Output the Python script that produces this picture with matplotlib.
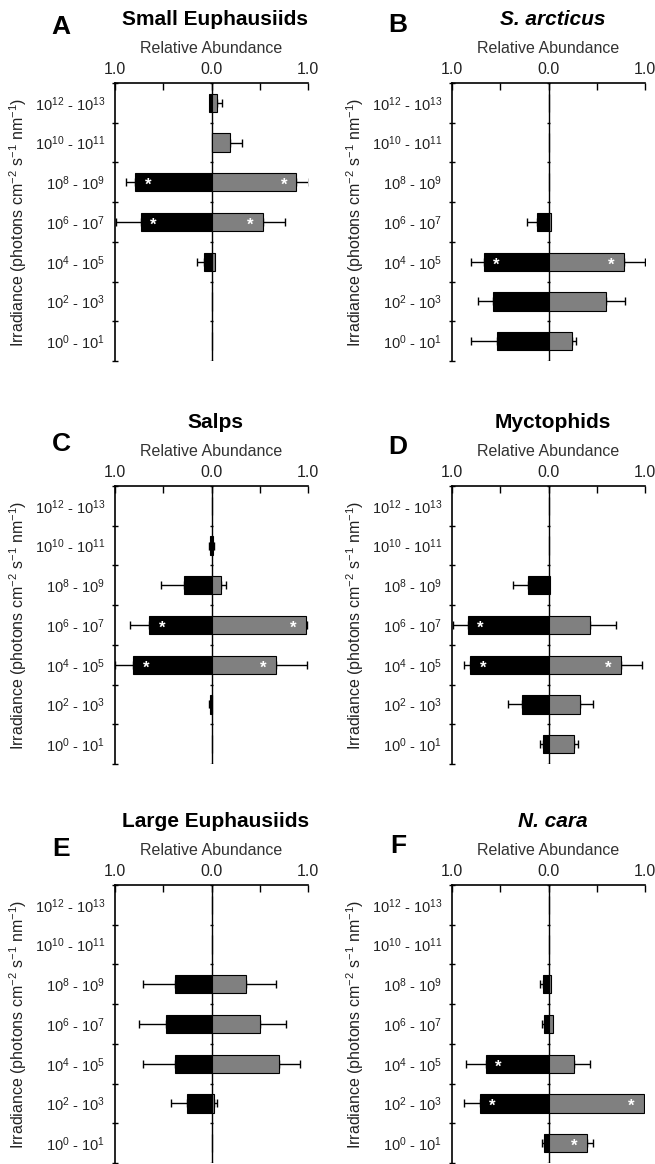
import matplotlib
matplotlib.use("Agg")
import matplotlib.pyplot as plt
import numpy as np

plt.rcParams['font.family'] = ['Liberation Sans', 'DejaVu Sans']
plt.rcParams['mathtext.fontset'] = 'custom'
plt.rcParams['mathtext.rm'] = 'Liberation Sans'
plt.rcParams['mathtext.it'] = 'Liberation Sans:italic'
plt.rcParams['mathtext.bf'] = 'Liberation Sans:bold'

# irradiance bins, top to bottom
bins = [r'$10^{12}$ - $10^{13}$', r'$10^{10}$ - $10^{11}$', r'$10^{8}$ - $10^{9}$',
        r'$10^{6}$ - $10^{7}$', r'$10^{4}$ - $10^{5}$', r'$10^{2}$ - $10^{3}$',
        r'$10^{0}$ - $10^{1}$']

letters = ['A', 'B', 'C', 'D', 'E', 'F']
titles = ['Small Euphausiids', 'S. arcticus', 'Salps', 'Myctophids',
          'Large Euphausiids', 'N. cara']
title_italic = [False, True, False, False, False, True]

# black (left) bars: relative abundance and error beyond bar
black_vals = [
    [0.03, 0, 0.79, 0.73, 0.08, 0, 0],
    [0, 0, 0, 0.12, 0.67, 0.57, 0.53],
    [0, 0.02, 0.28, 0.645, 0.81, 0.02, 0],
    [0, 0, 0.21, 0.835, 0.81, 0.27, 0.06],
    [0, 0, 0.38, 0.47, 0.38, 0.25, 0],
    [0, 0, 0.055, 0.045, 0.65, 0.715, 0.05],
]
black_errs = [
    [0, 0, 0.10, 0.26, 0.075, 0, 0],
    [0, 0, 0, 0.10, 0.13, 0.16, 0.27],
    [0, 0.01, 0.24, 0.20, 0.19, 0.01, 0],
    [0, 0, 0.16, 0.155, 0.07, 0.15, 0.03],
    [0, 0, 0.33, 0.285, 0.33, 0.17, 0],
    [0, 0, 0.035, 0.025, 0.20, 0.165, 0.02],
]
# gray (right) bars
gray_vals = [
    [0.06, 0.19, 0.88, 0.53, 0.04, 0, 0],
    [0, 0, 0, 0.03, 0.78, 0.60, 0.245],
    [0, 0.02, 0.10, 0.98, 0.67, 0, 0],
    [0, 0, 0.02, 0.43, 0.75, 0.33, 0.26],
    [0, 0, 0.355, 0.50, 0.70, 0.03, 0],
    [0, 0, 0.025, 0.05, 0.265, 0.99, 0.40],
]
gray_errs = [
    [0.05, 0.13, 0.13, 0.23, 0, 0, 0],
    [0, 0, 0, 0, 0.22, 0.19, 0.035],
    [0, 0.01, 0.05, 0.01, 0.32, 0, 0],
    [0, 0, 0, 0.27, 0.22, 0.13, 0.05],
    [0, 0, 0.31, 0.27, 0.22, 0.03, 0],
    [0, 0, 0, 0, 0.165, 0, 0.065],
]
# significance asterisks
black_stars = [
    [0, 0, 1, 1, 0, 0, 0],
    [0, 0, 0, 0, 1, 0, 0],
    [0, 0, 0, 1, 1, 0, 0],
    [0, 0, 0, 1, 1, 0, 0],
    [0, 0, 0, 0, 0, 0, 0],
    [0, 0, 0, 0, 1, 1, 0],
]
gray_stars = [
    [0, 0, 1, 1, 0, 0, 0],
    [0, 0, 0, 0, 1, 0, 0],
    [0, 0, 0, 1, 1, 0, 0],
    [0, 0, 0, 0, 1, 0, 0],
    [0, 0, 0, 0, 0, 0, 0],
    [0, 0, 0, 0, 0, 1, 1],
]

W, H = 655, 1164
fig = plt.figure(figsize=(W / 100, H / 100), dpi=100)

# axes boxes in pixels: left, top
lefts = [115, 452]
tops = [83, 486, 885]
aw, ah = 193, 278
letter_dy = [1.20, 1.21, 1.15, 1.14, 1.13, 1.14]
gray_col = '#808080'

for k in range(6):
    r, c = divmod(k, 2)
    l, t = lefts[c], tops[r]
    ax = fig.add_axes([l / W, 1 - (t + ah) / H, aw / W, ah / H])
    y = np.arange(len(bins))
    bv = np.array(black_vals[k])
    be = np.array(black_errs[k])
    gv = np.array(gray_vals[k])
    ge = np.array(gray_errs[k])

    ax.barh(y, -bv, height=0.46, color='black', edgecolor='black', lw=0.8, zorder=3)
    ax.barh(y, gv, height=0.46, color=gray_col, edgecolor='black', lw=0.8, zorder=3)

    mb = be > 0
    ax.errorbar(-bv[mb], y[mb], xerr=[be[mb], np.zeros(mb.sum())], fmt='none',
                ecolor='black', elinewidth=1, capsize=3, capthick=1, zorder=2)
    mg = ge > 0
    ax.errorbar(gv[mg], y[mg], xerr=[np.zeros(mg.sum()), ge[mg]], fmt='none',
                ecolor='black', elinewidth=1, capsize=3, capthick=1, zorder=2)

    for i in range(len(bins)):
        if black_stars[k][i]:
            ax.text(-bv[i] + 0.13, y[i] + 0.08, '*', color='white', fontsize=12,
                    fontweight='bold', ha='center', va='center', zorder=4)
        if gray_stars[k][i]:
            ax.text(gv[i] - 0.13, y[i] + 0.08, '*', color='white', fontsize=12,
                    fontweight='bold', ha='center', va='center', zorder=4)

    # zero line with small ticks at bin boundaries
    bounds = np.arange(len(bins) + 1) - 0.5
    ax.axvline(0, color='black', lw=1, zorder=1)
    ax.hlines(bounds, -0.015, 0.015, color='black', lw=1, zorder=1)

    ax.set_xlim(-1, 1)
    ax.set_ylim(len(bins) - 0.5, -0.5)
    for s in ['right', 'bottom']:
        ax.spines[s].set_visible(False)
    ax.spines['top'].set_linewidth(1.2)
    ax.spines['left'].set_linewidth(1.2)

    ax.xaxis.tick_top()
    ax.set_xticks([-1, -0.5, 0, 0.5, 1])
    ax.set_xticklabels(['1.0', '', '0.0', '', '1.0'], fontsize=11.5, color='#222222')
    ax.tick_params(axis='x', direction='in', length=5, width=1, pad=4)

    ax.set_yticks(y)
    ax.set_yticklabels(bins, fontsize=10.5, color='#222222')
    ax.tick_params(axis='y', which='major', length=0, pad=7)
    ax.set_yticks(bounds, minor=True)
    ax.tick_params(axis='y', which='minor', direction='inout', length=5, width=1)

    ax.set_ylabel(r'Irradiance (photons cm$^{-2}$ s$^{-1}$ nm$^{-1}$)',
                  fontsize=11.5, color='#222222')
    ax.yaxis.set_label_coords(-0.445, 0.5)

    ax.text(0.5, 1.125, 'Relative Abundance', transform=ax.transAxes,
            ha='center', va='center', fontsize=11.5, color='#333333')
    ax.text(0.52, 1.23, titles[k], transform=ax.transAxes, ha='center',
            va='center', fontsize=15, fontweight='bold',
            style='italic' if title_italic[k] else 'normal')
    ax.text(-0.28, letter_dy[k], letters[k], transform=ax.transAxes,
            ha='center', va='center', fontsize=19, fontweight='bold')

fig.savefig('out.png', dpi=100)
